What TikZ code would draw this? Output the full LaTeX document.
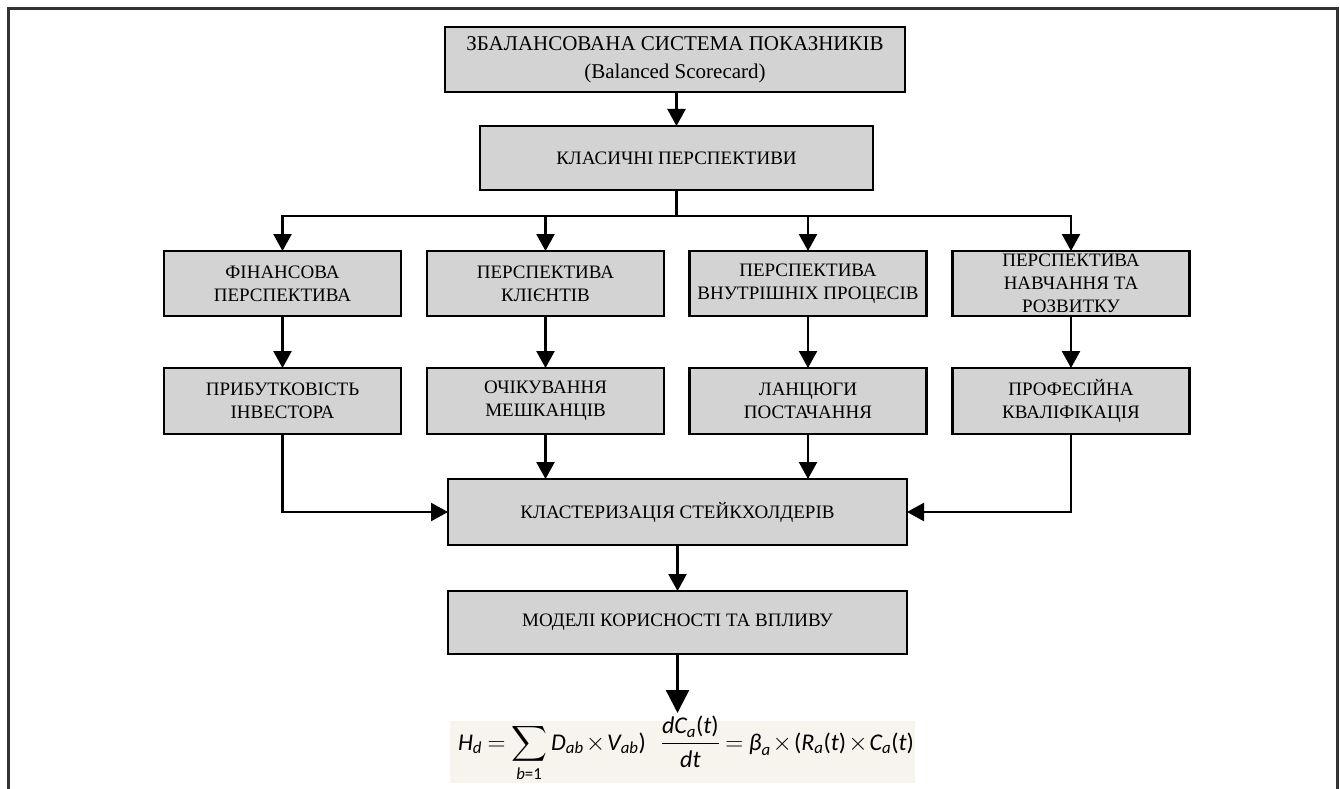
\documentclass[tikz,border=0pt]{standalone}
\usepackage{fontspec}
\usepackage{amsmath}
\setmainfont{Liberation Serif}
\newfontfamily\calfont{Carlito}
\newcommand\mv[1]{\text{\calfont\itshape #1}}
\newcommand\mr[1]{\text{\calfont #1}}
\usetikzlibrary{arrows.meta}
\definecolor{boxgray}{HTML}{D3D3D3}
\definecolor{framegray}{HTML}{333333}
\definecolor{beige}{HTML}{F7F4EE}
\tikzset{
  blk/.style={draw=black, line width=2.6pt, fill=boxgray, inner sep=0pt, outer sep=0pt,
    align=center, font=\fontsize{19}{23}\selectfont},
  conn/.style={line width=2.4pt, line cap=rect},
  arr/.style={conn, -{Triangle[width=18pt,length=17pt]}},
  arrbig/.style={conn, -{Triangle[width=23pt,length=23pt]}},
}
\begin{document}
\begin{tikzpicture}[x=1pt,y=-1pt]
\useasboundingbox (0,0) rectangle (1340,789);
% outer frame
\draw[framegray, line width=3pt] (8,795) -- (8,9) -- (1337,9) -- (1337,795);

\node[blk, minimum width=460pt, minimum height=65pt, font=\fontsize{21}{28}\selectfont] (top) at (675,59.5)
  {ЗБАЛАНСОВАНА СИСТЕМА ПОКАЗНИКІВ\\(Balanced Scorecard)};
\node[blk, minimum width=393pt, minimum height=64pt] (k) at (676.5,158) {КЛАСИЧНІ ПЕРСПЕКТИВИ};

\node[blk, minimum width=237pt, minimum height=65pt] (a1) at (282.5,283.5) {ФІНАНСОВА\\ПЕРСПЕКТИВА};
\node[blk, minimum width=237pt, minimum height=65pt] (b1) at (545.5,283.5) {ПЕРСПЕКТИВА\\КЛІЄНТІВ};
\node[blk, minimum width=237pt, minimum height=65pt] (c1) at (808,283.5) {ПЕРСПЕКТИВА\\ВНУТРІШНІХ ПРОЦЕСІВ};
\node[blk, minimum width=237pt, minimum height=65pt] (d1) at (1071,283.5) {ПЕРСПЕКТИВА\\НАВЧАННЯ ТА\\РОЗВИТКУ};

\node[blk, minimum width=237pt, minimum height=66pt] (a2) at (282.5,401) {ПРИБУТКОВІСТЬ\\ІНВЕСТОРА};
\node[blk, minimum width=237pt, minimum height=66pt] (b2) at (545.5,401) {ОЧІКУВАННЯ\\МЕШКАНЦІВ};
\node[blk, minimum width=237pt, minimum height=66pt] (c2) at (808,401) {ЛАНЦЮГИ\\ПОСТАЧАННЯ};
\node[blk, minimum width=237pt, minimum height=66pt] (d2) at (1071,401) {ПРОФЕСІЙНА\\КВАЛІФІКАЦІЯ};

\node[blk, minimum width=459pt, minimum height=66pt] (cl) at (677.5,512) {КЛАСТЕРИЗАЦІЯ СТЕЙКХОЛДЕРІВ};
\node[blk, minimum width=459pt, minimum height=63pt] (mod) at (677.5,622.5) {МОДЕЛІ КОРИСНОСТІ ТА ВПЛИВУ};

\node[fill=beige, minimum width=465pt, minimum height=62pt, inner sep=0pt, outer sep=0pt] (fm) at (682.5,752) {};
\node[inner sep=0pt, font=\fontsize{24}{29}\selectfont] (fmt) at (686,749)
  {\medmuskip=1.5mu\thickmuskip=4mu
   $\displaystyle \mv{H}_{\mv{d}} = \sum_{\mv{b}\mr{=1}} \mv{D}_{\mv{ab}}\times \mv{V}_{\mv{ab}}\mr{)}\hspace{15pt}
   \frac{\mv{dC}_{\mv{a}}\mr{(}\mv{t}\mr{)}}{\mv{dt}} = \mv{β}_{\mv{a}}\times\mr{(}\mv{R}_{\mv{a}}\mr{(}\mv{t}\mr{)}\times \mv{C}_{\mv{a}}\mr{(}\mv{t}\mr{)}$};

\coordinate (bus) at (676.5,216);
\draw[arr] (k |- top.south) -- (k);
\draw[conn] (k) -- (bus);
\draw[arr] (bus) -| (a1);
\draw[arr] (bus) -| (d1);
\draw[arr] (b1 |- bus) -- (b1);
\draw[arr] (c1 |- bus) -- (c1);

\draw[arr] (a1) -- (a2);
\draw[arr] (b1) -- (b2);
\draw[arr] (c1) -- (c2);
\draw[arr] (d1) -- (d2);

\draw[arr] (a2) |- (cl);
\draw[arr] (d2) |- (cl);
\draw[arr] (b2.south) -- (b2.south |- cl.north);
\draw[arr] (c2.south) -- (c2.south |- cl.north);

\draw[arr] (cl) -- (mod);
\draw[arrbig, shorten >=8pt] (mod.south) -- (mod.south |- fm.north);
\end{tikzpicture}
\end{document}
